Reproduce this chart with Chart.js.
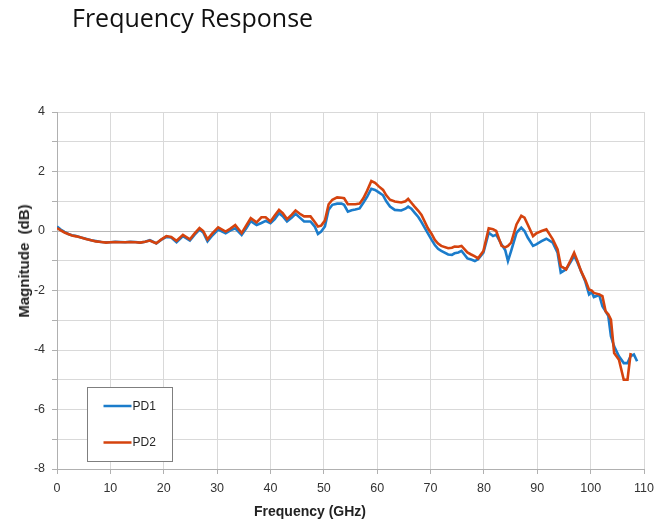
<!DOCTYPE html>
<html>
<head>
<meta charset="utf-8">
<script src="https://cdn.jsdelivr.net/npm/chart.js@4.4.1/dist/chart.umd.min.js"></script>
<style>
  html, body { margin: 0; padding: 0; background: #fff; }
  #wrap { position: relative; width: 661px; height: 527px; }
  #title { position: absolute; left: 72px; top: 0px; font: 25px "Open Sans", Lato, sans-serif; color: #111; white-space: nowrap; }
  .axt { position: absolute; font-family: "Liberation Sans", Arial, sans-serif; font-weight: bold; color: #222; white-space: nowrap; line-height: 16px; }
  #xt { left: 310px; top: 503px; font-size: 14px; transform: translateX(-50%); }
  #yt { left: 24px; top: 261px; font-size: 15px; transform: translate(-50%, -50%) rotate(-90deg); }
</style>
</head>
<body>
<div id="wrap">
  <canvas id="chart" width="661" height="527"></canvas>
  <div id="title">Frequency Response</div>
  <div class="axt" id="yt">Magnitude&nbsp;&nbsp;(dB)</div>
  <div class="axt" id="xt">Frequency (GHz)</div>
</div>
<script>
// frequency points (GHz)
const freq = [0, 0.7, 1.4, 2.1, 2.8, 3.6, 4.5, 5.4, 6.4, 7.3, 8.3, 9.2, 10, 10.9, 11.9, 12.8, 13.7, 14.7, 15.6, 16.5,
  17.4, 18.0, 18.6, 19.5, 20.5, 21.4, 22.4, 23.6, 24.9, 25.8, 26.7, 27.4, 28.2, 29.1, 30.2, 31.6, 32.5, 33.4, 34.6, 35.5,
  36.3, 37.4, 38.3, 39.1, 40.0, 40.8, 41.6, 42.3, 43.1, 44.0, 44.7, 45.5, 46.3, 47.5, 48.3, 48.9, 49.5, 50.2, 50.9, 51.6,
  52.5, 53.3, 53.8, 54.5, 55.2, 55.9, 56.7, 57.4, 58.1, 58.9, 59.6, 60.3, 61.1, 61.7, 62.4, 63.3, 64.5, 65.3, 65.8, 66.4,
  67.0, 67.7, 68.3, 69.5, 70.2, 70.8, 71.4, 72.0, 73.3, 74.0, 74.5, 75.2, 75.8, 76.3, 76.9, 77.6, 78.3, 78.9, 79.9, 80.9,
  81.7, 82.3, 83.3, 84.0, 84.5, 85.1, 86.1, 87.0, 87.6, 88.2, 89.2, 89.8, 90.8, 91.7, 92.9, 93.8, 94.4, 95.4, 96.2, 96.9,
  97.5, 98.2, 99.0, 99.7, 100.2, 100.6, 101.6, 102.2, 102.8, 103.3, 103.8, 104.4, 105.3, 106.2, 106.9, 107.5, 108.1, 108.7];

const pd1 = [0.15, 0.05, -0.03, -0.1, -0.14, -0.17, -0.22, -0.26, -0.31, -0.34, -0.37, -0.38, -0.38, -0.36, -0.37, -0.38, -0.36, -0.37, -0.39, -0.36,
  -0.31, -0.36, -0.42, -0.3, -0.2, -0.22, -0.38, -0.17, -0.32, -0.12, 0.05, -0.05, -0.35, -0.15, 0.05, -0.08, 0.02, 0.09, -0.13, 0.1,
  0.33, 0.2, 0.27, 0.34, 0.26, 0.4, 0.6, 0.5, 0.32, 0.45, 0.58, 0.45, 0.32, 0.32, 0.15, -0.1, -0.02, 0.15, 0.72, 0.88,
  0.92, 0.92, 0.88, 0.65, 0.7, 0.72, 0.76, 0.95, 1.15, 1.42, 1.38, 1.3, 1.2, 1.0, 0.82, 0.71, 0.69, 0.75, 0.82, 0.75,
  0.62, 0.47, 0.3, -0.08, -0.3, -0.47, -0.6, -0.67, -0.79, -0.8, -0.75, -0.72, -0.67, -0.78, -0.92, -0.96, -1.01, -0.95, -0.73, -0.06,
  -0.17, -0.12, -0.45, -0.65, -1.01, -0.67, -0.06, 0.11, 0.0, -0.22, -0.5, -0.45, -0.34, -0.26, -0.39, -0.73, -1.4, -1.29, -1.05, -0.84,
  -1.05, -1.35, -1.7, -2.13, -2.05, -2.22, -2.15, -2.53, -2.7, -2.85, -3.54, -3.88, -4.21, -4.44, -4.44, -4.2, -4.15, -4.38];

const pd2 = [0.1, 0.02, -0.05, -0.1, -0.15, -0.18, -0.22, -0.27, -0.31, -0.35, -0.37, -0.39, -0.38, -0.37, -0.38, -0.38, -0.37, -0.38, -0.39, -0.36,
  -0.32, -0.37, -0.41, -0.29, -0.17, -0.2, -0.33, -0.13, -0.28, -0.08, 0.1, 0.0, -0.28, -0.08, 0.12, -0.02, 0.08, 0.2, -0.07, 0.2,
  0.43, 0.29, 0.46, 0.46, 0.32, 0.52, 0.71, 0.6, 0.4, 0.55, 0.69, 0.58, 0.49, 0.49, 0.3, 0.15, 0.18, 0.35, 0.9, 1.05,
  1.13, 1.12, 1.1, 0.9, 0.9, 0.9, 0.92, 1.1, 1.35, 1.68, 1.62, 1.5, 1.38, 1.2, 1.05, 0.99, 0.96, 1.0, 1.08, 0.95,
  0.82, 0.68, 0.54, 0.09, -0.1, -0.3, -0.42, -0.5, -0.58, -0.56, -0.52, -0.53, -0.5, -0.6, -0.72, -0.79, -0.85, -0.92, -0.67, 0.09,
  0.06, 0.0, -0.5, -0.55, -0.5, -0.39, 0.22, 0.51, 0.45, 0.22, -0.17, -0.08, 0.0, 0.06, -0.28, -0.62, -1.18, -1.29, -1.0, -0.73,
  -1.0, -1.35, -1.65, -1.97, -2.0, -2.08, -2.13, -2.19, -2.7, -2.8, -2.98, -4.1, -4.33, -5.0, -5.0, -4.1, null, null];

const seriesNames = ['PD1', 'PD2'];
const seriesColors = ['#1B7CCB', '#D5430E'];

const toPoints = vals => freq.map((f, i) => ({ x: f, y: vals[i] }));

// legend drawn inside the plot as a boxed key
const boxLegend = {
  id: 'boxLegend',
  afterDraw(chart) {
    const ctx = chart.ctx;
    const a = chart.chartArea;
    const bx = a.left + 30.5, by = a.top + 275.5, bw = 85, bh = 74;
    ctx.save();
    ctx.fillStyle = '#fff';
    ctx.fillRect(bx, by, bw, bh);
    ctx.strokeStyle = '#7f7f7f';
    ctx.lineWidth = 1;
    ctx.strokeRect(bx, by, bw, bh);
    ctx.font = '12px "Liberation Sans", Arial, sans-serif';
    ctx.textBaseline = 'middle';
    chart.data.datasets.forEach((ds, i) => {
      const y = by + 18.5 + i * 36.5;
      ctx.strokeStyle = ds.borderColor;
      ctx.lineWidth = 2.5;
      ctx.beginPath();
      ctx.moveTo(bx + 16, y);
      ctx.lineTo(bx + 44, y);
      ctx.stroke();
      ctx.fillStyle = '#262626';
      ctx.fillText(ds.label, bx + 45, y + 0.5);
    });
    ctx.restore();
  }
};

new Chart(document.getElementById('chart'), {
  type: 'line',
  data: {
    datasets: [
      { label: seriesNames[0], data: toPoints(pd1), borderColor: seriesColors[0], borderWidth: 2.6, pointRadius: 0, order: 2 },
      { label: seriesNames[1], data: toPoints(pd2), borderColor: seriesColors[1], borderWidth: 2.6, pointRadius: 0, order: 1 }
    ]
  },
  options: {
    responsive: false,
    animation: false,
    layout: { padding: { top: 112, right: 14, left: 0, bottom: 0 } },
    plugins: { legend: { display: false }, tooltip: { enabled: false } },
    scales: {
      x: {
        type: 'linear', min: 0, max: 110,
        afterFit: s => { s.height = 58; },
        ticks: { stepSize: 10, padding: 7, color: '#333', font: { size: 12.5, family: '"Liberation Sans", Arial, sans-serif' }, maxRotation: 0 },
        grid: { color: '#d9d9d9', tickColor: '#b0b0b0', tickLength: 5 },
        border: { color: '#b0b0b0' }
      },
      y: {
        min: -8, max: 4,
        afterFit: s => { s.width = 57; },
        ticks: { stepSize: 1, padding: 7, color: '#333', font: { size: 12.5, family: '"Liberation Sans", Arial, sans-serif' },
          callback: v => (v % 2 === 0 ? v : '') },
        grid: { color: c => (c.tick && c.tick.value === 0 ? '#b8b8b8' : '#d9d9d9'), tickColor: '#b0b0b0', tickLength: 5 },
        border: { color: '#b0b0b0' }
      }
    }
  },
  plugins: [boxLegend]
});
</script>
</body>
</html>
